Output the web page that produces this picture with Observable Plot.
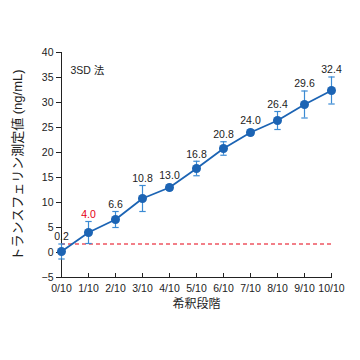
<!DOCTYPE html>
<html><head><meta charset="utf-8">
<script src="https://cdn.jsdelivr.net/npm/d3@7"></script>
<script src="https://cdn.jsdelivr.net/npm/@observablehq/plot@0.6"></script>
<style>
body{margin:0;background:#fff;}
#c{width:360px;height:360px;}
svg{font-family:"Liberation Sans","Noto Sans CJK JP",sans-serif;}
</style></head>
<body><div id="c"></div>
<script>
const categories = ["0/10","1/10","2/10","3/10","4/10","5/10","6/10","7/10","8/10","9/10","10/10"];
const values = [0.2, 4.0, 6.6, 10.8, 13.0, 16.8, 20.8, 24.0, 26.4, 29.6, 32.4];
const errors = [1.5, 2.2, 1.6, 2.6, 0.5, 1.45, 1.35, 0.5, 1.8, 2.7, 2.7];
const valueLabels = ["0.2","4.0","6.6","10.8","13.0","16.8","20.8","24.0","26.4","29.6","32.4"];
const yTicks = [-5,0,5,10,15,20,25,30,35,40];
const cutoff = [1.7];
const methodLabel = "3SD 法";
const xTitle = "希釈段階";
const yTitle = "トランスフェリン測定値 (ng/mL)";

const data = categories.map((c,i)=>({c, v: values[i], e: errors[i], lab: valueLabels[i], i}));
const blue = "#1c64b4", barBlue = "#3b8ad3", red = "#e60012", ink = "#222";

const capSymbol = {draw(ctx, size){ const w = 3.2; ctx.moveTo(-w,0); ctx.lineTo(w,0); }};

const chart = Plot.plot({
  width: 360, height: 360,
  marginLeft: 61, marginRight: 29, marginTop: 52, marginBottom: 83,
  style: {fontSize: "10.5px", color: ink, background: "#fff"},
  x: {type: "point", domain: categories, padding: 0},
  y: {domain: [-5, 40]},
  marks: [
    Plot.frame({anchor: "left", stroke: ink}),
    Plot.frame({anchor: "bottom", stroke: ink}),
    Plot.axisY({ticks: yTicks, tickSize: 5, tickPadding: 3, label: null, fontSize: 10.5}),
    Plot.axisX({tickSize: 0, tickPadding: 7, label: null, fontSize: 10.5}),
    Plot.ruleX(categories, {x: d => d, y1: -5, y2: -4.2, stroke: ink}),
    Plot.ruleY(cutoff, {stroke: red, strokeDasharray: "4,3", strokeWidth: 1.2}),
    Plot.ruleX(data, {x: "c", y1: d => d.v - d.e, y2: d => d.v + d.e, stroke: barBlue, strokeWidth: 1.2}),
    Plot.dot(data, {x: "c", y: d => d.v - d.e, symbol: capSymbol, stroke: barBlue, strokeWidth: 1.2, r: 3}),
    Plot.dot(data, {x: "c", y: d => d.v + d.e, symbol: capSymbol, stroke: barBlue, strokeWidth: 1.2, r: 3}),
    Plot.line(data, {x: "c", y: "v", stroke: blue, strokeWidth: 1.8}),
    Plot.dot(data, {x: "c", y: "v", r: 4.5, fill: blue, stroke: "none"}),
    Plot.text(data, {x: "c", y: d => d.v + Math.max(d.e, 1.0), text: "lab", dy: -7, fontSize: 10.5,
      fill: d => d.c === "1/10" ? red : ink}),
    Plot.text([methodLabel], {frameAnchor: "top-left", dx: 9, dy: 14, textAnchor: "start", fontSize: 10.5, fill: ink}),
    Plot.text([xTitle], {frameAnchor: "bottom", dy: 30, fontSize: 12, fill: ink}),
    Plot.text([yTitle], {frameAnchor: "left", dx: -44, rotate: -90, textAnchor: "middle", fontSize: 13, fill: ink})
  ]
});
document.getElementById("c").appendChild(chart);
</script>
</body></html>
